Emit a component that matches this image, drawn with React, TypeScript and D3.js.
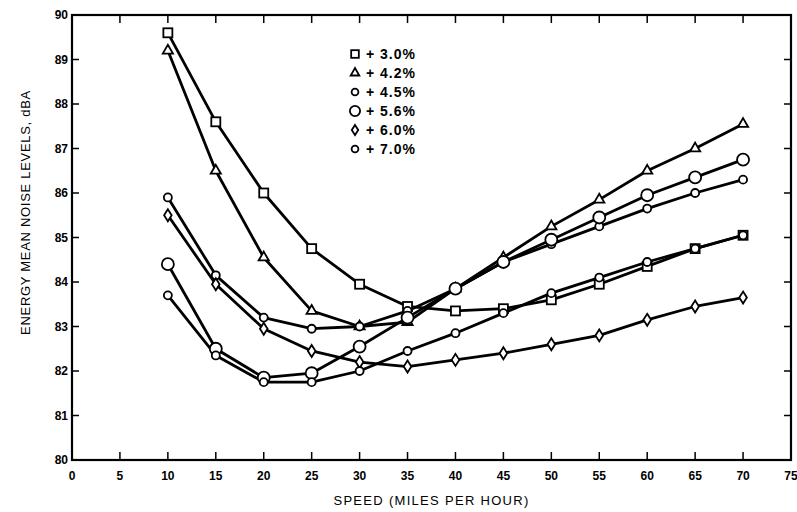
import React from "react";
import * as d3 from "d3";

const speeds = [10, 15, 20, 25, 30, 35, 40, 45, 50, 55, 60, 65, 70];
const grade30 = [89.6, 87.6, 86.0, 84.75, 83.95, 83.45, 83.35, 83.4, 83.6, 83.95, 84.35, 84.75, 85.05];
const grade42 = [89.2, 86.5, 84.55, 83.35, 83.0, 83.1, 83.85, 84.55, 85.25, 85.85, 86.5, 87.0, 87.55];
const grade45 = [85.9, 84.15, 83.2, 82.95, 83.0, 83.35, 83.85, 84.45, 84.85, 85.25, 85.65, 86.0, 86.3];
const grade56 = [84.4, 82.5, 81.85, 81.95, 82.55, 83.2, 83.85, 84.45, 84.95, 85.45, 85.95, 86.35, 86.75];
const grade60 = [85.5, 83.95, 82.95, 82.45, 82.2, 82.1, 82.25, 82.4, 82.6, 82.8, 83.15, 83.45, 83.65];
const grade70 = [83.7, 82.35, 81.75, 81.75, 82.0, 82.45, 82.85, 83.3, 83.75, 84.1, 84.45, 84.75, 85.05];

const seriesLabels = ["+ 3.0%", "+ 4.2%", "+ 4.5%", "+ 5.6%", "+ 6.0%", "+ 7.0%"];
const seriesMarkers = ["square", "triangle", "smallCircle", "bigCircle", "diamond", "smallCircle"];
const seriesValues = [grade30, grade42, grade45, grade56, grade60, grade70];

const xTicks = d3.range(0, 80, 5);
const yTicks = d3.range(80, 91, 1);

const W = 797, H = 512;
const left = 72, right = 791, top = 15, bottom = 460;

const x = d3.scaleLinear().domain([0, 75]).range([left, right]);
const y = d3.scaleLinear().domain([80, 90]).range([bottom, top]);

function Marker({ kind, cx, cy, scale = 1 }: { kind: string; cx: number; cy: number; scale?: number }) {
  const st = { fill: "#fff", stroke: "#000", strokeWidth: 1.8 };
  const s = scale;
  if (kind === "square") return <rect x={cx - 4.5 * s} y={cy - 4.5 * s} width={9 * s} height={9 * s} {...st} />;
  if (kind === "triangle") {
    const p = d3.symbol().type(d3.symbolTriangle).size(45 * s * s)();
    return <path d={p as string} transform={`translate(${cx},${cy})`} {...st} />;
  }
  if (kind === "smallCircle") return <circle cx={cx} cy={cy} r={4 * s} {...st} />;
  if (kind === "bigCircle") return <circle cx={cx} cy={cy} r={6 * s} {...st} />;
  if (kind === "diamond") {
    const p = `M${cx},${cy - 6 * s}L${cx + 3.8 * s},${cy}L${cx},${cy + 6 * s}L${cx - 3.8 * s},${cy}Z`;
    return <path d={p} {...st} />;
  }
  return null;
}

export default function App() {
  const line = d3
    .line<number>()
    .x((_, i) => x(speeds[i]))
    .y((d) => y(d));
  const font = "'Liberation Sans', Arial, sans-serif";
  return (
    <svg
      width={W}
      height={H}
      style={{ position: "absolute", left: 0, top: 0, background: "#fff" }}
      fontFamily={font}
    >
      <rect x={0} y={0} width={W} height={H} fill="#fff" />
      <rect x={left} y={top} width={right - left} height={bottom - top} fill="none" stroke="#000" strokeWidth={2.2} />
      {xTicks.slice(1, -1).map((t) => (
        <g key={"xt" + t}>
          <line x1={x(t)} x2={x(t)} y1={bottom} y2={bottom - 8} stroke="#000" strokeWidth={1.5} />
          <line x1={x(t)} x2={x(t)} y1={top} y2={top + 8} stroke="#000" strokeWidth={1.5} />
        </g>
      ))}
      {yTicks.slice(1, -1).map((t) => (
        <g key={"yt" + t}>
          <line x1={left} x2={left + 7} y1={y(t)} y2={y(t)} stroke="#000" strokeWidth={1.5} />
          <line x1={right} x2={right - 7} y1={y(t)} y2={y(t)} stroke="#000" strokeWidth={1.5} />
        </g>
      ))}
      {xTicks.map((t) => (
        <text key={"xl" + t} x={x(t)} y={480} textAnchor="middle" fontSize={12} fontWeight="bold">
          {t}
        </text>
      ))}
      {yTicks.map((t) => (
        <text key={"yl" + t} x={left - 4} y={y(t) + 4} textAnchor="end" fontSize={12} fontWeight="bold">
          {t}
        </text>
      ))}
      <text x={(left + right) / 2} y={505} textAnchor="middle" fontSize={13} letterSpacing={1.3}>
        SPEED (MILES PER HOUR)
      </text>
      <text
        transform={`translate(30,${(top + bottom) / 2 - 25}) rotate(-90)`}
        textAnchor="middle"
        fontSize={13}
        letterSpacing={0.7}
      >
        ENERGY MEAN NOISE LEVELS, dBA
      </text>
      {seriesValues.map((vals, si) => (
        <path key={"l" + si} d={line(vals) as string} fill="none" stroke="#000" strokeWidth={2.8} strokeLinejoin="round" />
      ))}
      {seriesValues.map((vals, si) =>
        vals.map((v, i) => <Marker key={`m${si}-${i}`} kind={seriesMarkers[si]} cx={x(speeds[i])} cy={y(v)} />)
      )}
      {seriesLabels.map((lab, i) => {
        const ly = 54 + i * 19;
        return (
          <g key={"lg" + i}>
            <Marker kind={seriesMarkers[i]} cx={355} cy={ly} scale={0.85} />
            <text x={366} y={ly + 5} fontSize={14} fontWeight="bold" letterSpacing={1}>
              {lab}
            </text>
          </g>
        );
      })}
    </svg>
  );
}
